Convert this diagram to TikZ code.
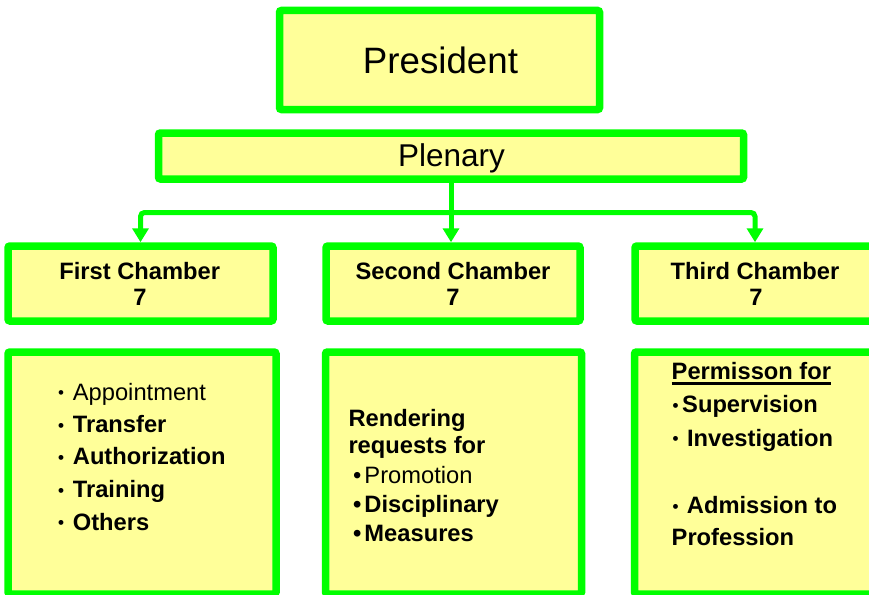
\documentclass[tikz,border=0pt]{standalone}
\usepackage{fontspec}
\setmainfont{Liberation Sans}
\usetikzlibrary{arrows.meta}
\definecolor{boxgreen}{HTML}{00FF00}
\definecolor{boxyellow}{HTML}{FFFF99}
\newcommand\smbul{\raisebox{1.2pt}{\fontsize{17}{17}\selectfont •}}
\begin{document}
\begin{tikzpicture}[x=1pt,y=-1pt,
  box/.style={draw=boxgreen, fill=boxyellow, line width=7.5pt, rounded corners=2pt, inner sep=0pt, outer sep=auto},
  conn/.style={draw=boxgreen, line width=5pt},
  arr/.style={conn, -{Triangle[length=14pt,width=16pt]}, rounded corners=4pt},
  lbl/.style={inner sep=0pt, anchor=base, text=black},
  itm/.style={inner sep=0pt, anchor=base west, text=black},
  big/.style={font=\fontsize{36.7}{40}\selectfont},
  mid/.style={font=\fontsize{31.5}{34}\selectfont},
  nb/.style={font=\fontsize{23.7}{26}\selectfont\bfseries},
  nr/.style={font=\fontsize{23.7}{26}\selectfont}]
\useasboundingbox (0,0) rectangle (869,594);
\clip (0,0) rectangle (869,594);
% boxes
\node[box, minimum width=320pt, minimum height=99pt] (pres) at (439.5,60) {};
\node[box, minimum width=585pt, minimum height=46pt] (pl) at (451,156) {};
\node[box, minimum width=265pt, minimum height=75pt] (c1) at (140.5,283.5) {};
\node[box, minimum width=254pt, minimum height=75pt] (c2) at (453,283.5) {};
\node[box, minimum width=240pt, minimum height=75pt] (c3) at (755,283.5) {};
\node[box, minimum width=268pt, minimum height=242pt] (b1) at (142,473) {};
\node[box, minimum width=256pt, minimum height=242pt] (b2) at (453.5,473) {};
\node[box, minimum width=241pt, minimum height=242pt] (b3) at (755,473) {};
% connectors
\coordinate (hub) at (451,212.5);
\draw[conn] (pl.south -| hub) -- (hub);
\draw[arr] (hub) -| (c1.north);
\draw[arr] (hub) -- (hub |- c2.north);
\draw[arr] (hub) -| (c3.north);
% titles
\node[lbl, big] (tpres) at (440.5,73.3) {President};
\node[lbl, mid] (tpl) at (451.5,166.7) {Plenary};
\node[lbl, nb] (tc1a) at (139.7,279.3) {First Chamber};
\node[lbl, nb] (tc1b) at (140,305) {7};
\node[lbl, nb] (tc2a) at (453,279.3) {Second Chamber};
\node[lbl, nb] (tc2b) at (453,305) {7};
\node[lbl, nb] (tc3a) at (755,279.3) {Third Chamber};
\node[lbl, nb] (tc3b) at (756,305) {7};
% box 1
\node[itm, nr] (i1) at (57.8,400) {\makebox[14.9pt][l]{\smbul}Appointment};
\node[itm, nb] (i2) at (57.8,432.3) {\makebox[14.9pt][l]{\smbul}Transfer};
\node[itm, nb] (i3) at (57.8,464.7) {\makebox[14.9pt][l]{\smbul}Authorization};
\node[itm, nb] (i4) at (57.8,497.3) {\makebox[14.9pt][l]{\smbul}Training};
\node[itm, nb] (i5) at (57.8,530) {\makebox[14.9pt][l]{\smbul}Others};
% box 2
\node[itm, nb] (r1) at (348.3,426.5) {Rendering};
\node[itm, nb] (r2) at (348.3,453) {requests for};
\node[itm, nr] (r3) at (348.3,483) {\makebox[16pt][l]{\hspace{4.5pt}•}Promotion};
\node[itm, nb] (r4) at (348.3,512.5) {\makebox[16pt][l]{\hspace{4.5pt}•}Disciplinary};
\node[itm, nb] (r5) at (348.3,541.5) {\makebox[16pt][l]{\hspace{4.5pt}•}Measures};
% box 3
\node[itm, nb] (p0) at (671.5,379) {Permisson for};
\draw[line width=2.5pt] ([yshift=-4.3pt]p0.base west) -- ([yshift=-4.3pt]p0.base east);
\node[itm, nb] (p1) at (672.3,412.7) {\makebox[9.7pt][l]{\smbul}Supervision};
\node[itm, nb] (p2) at (672.3,446) {\makebox[14.5pt][l]{\smbul}Investigation};
\node[itm, nb] (p3) at (672.3,513.3) {\makebox[14.4pt][l]{\smbul}Admission to};
\node[itm, nb] (p4) at (671.5,545) {Profession};
\end{tikzpicture}
\end{document}
